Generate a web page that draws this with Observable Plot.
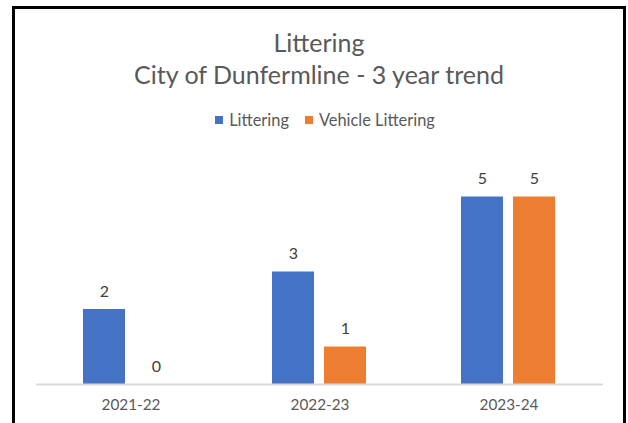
<!DOCTYPE html>
<html>
<head>
<meta charset="utf-8">
<script src="https://cdn.jsdelivr.net/npm/d3@7"></script>
<script src="https://cdn.jsdelivr.net/npm/@observablehq/plot@0.6"></script>
<style>
  html, body { margin: 0; padding: 0; background: #fff; overflow: hidden; }
  body { width: 628px; height: 423px; position: relative; font-family: Lato, "Open Sans", sans-serif; }
  #frame { position: absolute; left: 12px; top: 6px; width: 608px; height: 440px; border: 3px solid #000; background: #fff; }
  .t { position: absolute; left: 0; width: 608px; text-align: center; color: #595959; font-size: 25px; line-height: 30px; white-space: nowrap; font-weight: 400; }
  #legend { position: absolute; left: 6px; width: 608px; top: 101px; display: flex; justify-content: center; align-items: center; font-size: 16.4px; color: #595959; line-height: 20px; }
  .item { display: flex; align-items: center; margin: 0 8px; }
  .sw { width: 8px; height: 8px; margin-right: 6px; display: inline-block; }
  #chart { position: absolute; left: 0; top: 131px; }
</style>
</head>
<body>
<div id="frame">
  <div class="t" style="top:18px">Littering</div>
  <div class="t" style="top:50px">City of Dunfermline - 3 year trend</div>
  <div id="legend"></div>
  <div id="chart"></div>
</div>
<script>
const years = ["2021-22", "2022-23", "2023-24"];
const seriesNames = ["Littering", "Vehicle Littering"];
const littering = [2, 3, 5];
const vehicleLittering = [0, 1, 5];
const colors = ["#4472C4", "#ED7D31"];

const data = [];
years.forEach((y, i) => {
  data.push({year: y, series: seriesNames[0], value: littering[i]});
  data.push({year: y, series: seriesNames[1], value: vehicleLittering[i]});
});

const legend = document.getElementById("legend");
seriesNames.forEach((s, i) => {
  const it = document.createElement("div");
  it.className = "item";
  const sw = document.createElement("span");
  sw.className = "sw";
  sw.style.background = colors[i];
  const tx = document.createElement("span");
  tx.textContent = s;
  it.appendChild(sw); it.appendChild(tx);
  legend.appendChild(it);
});

const plot = Plot.plot({
  width: 608,
  height: 290,
  marginLeft: 20,
  marginRight: 19,
  marginTop: 19,
  marginBottom: 46,
  style: {fontFamily: "Lato, 'Open Sans', sans-serif", background: "transparent"},
  fx: {domain: years, padding: 0, axis: null, label: null},
  x: {domain: seriesNames, paddingInner: 0.19, paddingOuter: 0.9, axis: null},
  y: {domain: [0, 6], axis: null},
  color: {domain: seriesNames, range: colors},
  marks: [
    Plot.barY(data, {fx: "year", x: "series", y: "value", fill: "series"}),
    Plot.ruleY([0], {stroke: "#d9d9d9", strokeWidth: 2}),
    Plot.text(data, {fx: "year", x: "series", y: "value", text: d => String(d.value), dy: -18, fontSize: 16, fill: "#404040"}),
    Plot.axisFx({anchor: "bottom", tickSize: 0, tickPadding: 15, fontSize: 15.3, fill: "#595959", label: null})
  ]
});
document.getElementById("chart").appendChild(plot);
</script>
</body>
</html>
